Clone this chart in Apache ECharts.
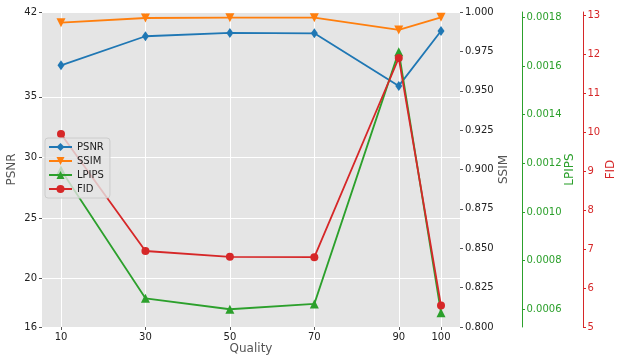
<!DOCTYPE html>
<html><head><meta charset="utf-8">
<script src="https://cdn.jsdelivr.net/npm/echarts@6/dist/echarts.min.js"></script>
<style>html,body{margin:0;padding:0;background:#fff}#c{width:623px;height:363px}</style>
</head><body><div id="c"></div>
<script>
const quality = [10, 30, 50, 70, 90, 100];
const psnr = [37.6, 40.0, 40.27, 40.24, 35.9, 40.43];
const ssim = [0.9932, 0.9962, 0.9964, 0.9964, 0.9886, 0.9966];
const lpips = [0.001172, 0.000645, 0.000600, 0.000622, 0.001659, 0.000586];
const fid = [9.95, 6.95, 6.80, 6.79, 11.90, 5.55];
const xTicks = [10, 30, 50, 70, 90, 100];
const psnrTicks = [16, 20, 25, 30, 35, 42];
const lpipsTicks = [0.0006, 0.0008, 0.0010, 0.0012, 0.0014, 0.0016, 0.0018];
const fidTicks = [5, 6, 7, 8, 9, 10, 11, 12, 13];

const FONT = 'DejaVu Sans';
const C = {psnr:'#1f77b4', ssim:'#ff7f0e', lpips:'#2ca02c', fid:'#d62728'};
const pts = a => quality.map((q,i)=>[q,a[i]]);
const chart = echarts.init(document.getElementById('c'), null, {renderer:'canvas'});
const tickLbl = {fontFamily:FONT, fontSize:10, color:'#222'};
const series = (name, data, yi, color, symbol, size, rot) => ({
  name, type:'line', data:pts(data), yAxisIndex:yi, color,
  symbol, symbolSize:size, symbolRotate:rot||0,
  lineStyle:{width:1.8, color}, itemStyle:{color}, animation:false
});
chart.setOption({
  animation:false,
  grid:{left:42, right:163, top:12, bottom:36, show:true, backgroundColor:'#e5e5e5', borderWidth:0,
        containLabel:false, outerBoundsMode:'none'},
  legend:{
    orient:'vertical', left:45, top:138, backgroundColor:'rgba(229,229,229,0.8)',
    borderColor:'#cccccc', borderWidth:1, borderRadius:3, padding:[4,6,4,3], itemGap:4,
    itemWidth:23, itemHeight:10, textStyle:{fontFamily:FONT, fontSize:10, color:'#222'},
    data:['PSNR','SSIM','LPIPS','FID']
  },
  xAxis:{
    type:'value', min:5.5, max:104.5,
    name:'Quality', nameLocation:'middle', nameGap:16, nameMoveOverlap:false,
    nameTextStyle:{fontFamily:FONT, fontSize:12, color:'#555'},
    axisLine:{show:false},
    axisTick:{show:true, customValues:xTicks, length:3, lineStyle:{color:'#555'}},
    axisLabel:{customValues:xTicks, margin:5, ...tickLbl},
    splitLine:{show:true, lineStyle:{color:'#ffffff', width:1}}
  },
  yAxis:[
    {type:'value', position:'left', min:16, max:42,
     name:'PSNR', nameLocation:'middle', nameRotate:90, nameGap:24, nameMoveOverlap:false,
     nameTextStyle:{fontFamily:FONT, fontSize:12, color:'#555'},
     axisLine:{show:false},
     axisTick:{show:true, customValues:psnrTicks, length:3, lineStyle:{color:'#555'}},
     axisLabel:{customValues:psnrTicks, margin:5, ...tickLbl},
     splitLine:{show:true, lineStyle:{color:'#ffffff', width:1}}},
    {type:'value', position:'right', min:0.8, max:1.0, interval:0.025,
     name:'SSIM', nameLocation:'middle', nameRotate:90, nameGap:38, nameMoveOverlap:false,
     nameTextStyle:{fontFamily:FONT, fontSize:12, color:'#555'},
     axisLine:{show:false},
     axisTick:{show:true, length:3, lineStyle:{color:'#555'}},
     axisLabel:{margin:5, formatter:v=>v.toFixed(3), ...tickLbl},
     splitLine:{show:false}},
    {type:'value', position:'right', offset:62, min:0.000527, max:0.001822,
     name:'LPIPS', nameLocation:'middle', nameRotate:90, nameGap:42, nameMoveOverlap:false,
     nameTextStyle:{fontFamily:FONT, fontSize:12, color:C.lpips},
     axisLine:{show:true, lineStyle:{color:C.lpips, width:1}},
     axisTick:{show:true, customValues:lpipsTicks, length:3, lineStyle:{color:C.lpips}},
     axisLabel:{customValues:lpipsTicks, margin:4.5, formatter:v=>v.toFixed(4), fontFamily:FONT, fontSize:10, color:C.lpips},
     splitLine:{show:false}},
    {type:'value', position:'right', offset:123, min:5, max:13.08,
     name:'FID', nameLocation:'middle', nameRotate:90, nameGap:22, nameMoveOverlap:false,
     nameTextStyle:{fontFamily:FONT, fontSize:12, color:C.fid},
     axisLine:{show:true, lineStyle:{color:C.fid, width:1}},
     axisTick:{show:true, customValues:fidTicks, length:3, lineStyle:{color:C.fid}},
     axisLabel:{customValues:fidTicks, margin:4.5, fontFamily:FONT, fontSize:10, color:C.fid},
     splitLine:{show:false}}
  ],
  series:[
    series('PSNR', psnr, 0, C.psnr, 'path://M0,-1L0.6,0L0,1L-0.6,0Z', [7,10]),
    series('SSIM', ssim, 1, C.ssim, 'triangle', 9, 180),
    series('LPIPS', lpips, 2, C.lpips, 'triangle', 9),
    series('FID', fid, 3, C.fid, 'circle', 8)
  ]
});
</script></body></html>
